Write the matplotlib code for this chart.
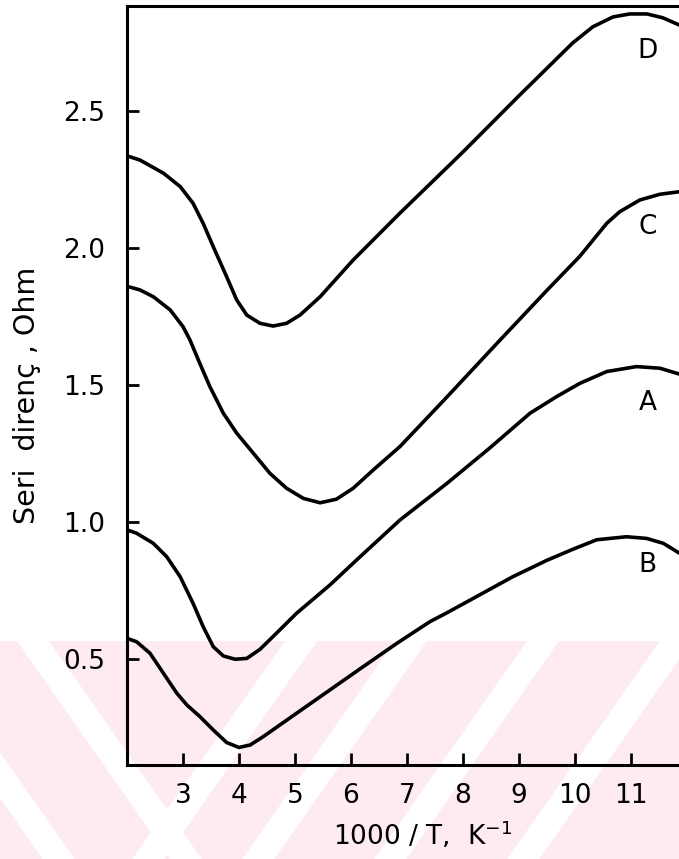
import matplotlib.pyplot as plt
from matplotlib.patches import Polygon, Rectangle

# curves (1000/T in K^-1, series resistance in Ohm)
x_D = [2.0, 2.23, 2.65, 2.95, 3.18, 3.36, 3.54, 3.78, 3.96, 4.14, 4.375, 4.61, 4.85, 5.09, 5.45, 6.04,
       6.875, 8.0, 9.0, 9.96, 10.32, 10.68, 10.98, 11.29, 11.57, 11.86]
y_D = [2.336, 2.321, 2.273, 2.224, 2.163, 2.09, 2.005, 1.895, 1.81, 1.755, 1.725, 1.715, 1.725, 1.755, 1.822, 1.956,
       2.127, 2.35, 2.555, 2.748, 2.807, 2.843, 2.854, 2.854, 2.84, 2.814]

x_C = [2.0, 2.23, 2.47, 2.77, 3.0, 3.125, 3.30, 3.48, 3.72, 3.96, 4.26, 4.55, 4.85, 5.15, 5.45, 5.74,
       6.04, 6.4, 6.875, 7.71, 8.6, 9.5, 10.09, 10.33, 10.57, 10.8, 11.16, 11.52, 11.86]
y_C = [1.86, 1.847, 1.822, 1.774, 1.713, 1.664, 1.579, 1.494, 1.397, 1.324, 1.25, 1.178, 1.123, 1.086, 1.07, 1.083,
       1.123, 1.19, 1.275, 1.455, 1.65, 1.845, 1.97, 2.03, 2.09, 2.132, 2.175, 2.196, 2.205]

x_A = [2.0, 2.17, 2.47, 2.71, 2.95, 3.18, 3.36, 3.54, 3.72, 3.93, 4.14, 4.375, 4.67, 5.03, 5.625, 6.1,
       6.875, 7.71, 8.48, 9.2, 9.67, 10.09, 10.57, 11.1, 11.52, 11.86]
y_A = [0.971, 0.959, 0.922, 0.873, 0.80, 0.703, 0.618, 0.545, 0.511, 0.499, 0.502, 0.535, 0.594, 0.667, 0.77, 0.861,
       1.007, 1.14, 1.27, 1.397, 1.457, 1.506, 1.549, 1.567, 1.561, 1.54]

x_B = [2.0, 2.17, 2.41, 2.65, 2.89, 3.07, 3.30, 3.54, 3.78, 4.0, 4.2, 4.43, 5.03, 5.625, 6.22, 6.82,
       7.41, 7.71, 8.89, 9.5, 9.96, 10.39, 10.92, 11.28, 11.58, 11.86]
y_B = [0.575, 0.563, 0.521, 0.448, 0.375, 0.332, 0.29, 0.241, 0.195, 0.177, 0.186, 0.216, 0.302, 0.387, 0.472, 0.557,
       0.636, 0.668, 0.80, 0.86, 0.90, 0.935, 0.946, 0.94, 0.922, 0.887]

curve_names = ['D', 'C', 'A', 'B']
name_x = [11.3, 11.3, 11.3, 11.3]
name_y = [2.72, 2.077, 1.434, 0.843]

x_ticks = [3, 4, 5, 6, 7, 8, 9, 10, 11]
y_ticks = [0.5, 1.0, 1.5, 2.0, 2.5]

W, H = 679, 859
fig = plt.figure(figsize=(W / 100, H / 100), dpi=100)


def fx(px):
    return px / W


def fy(py):
    return 1 - py / H


# faint watermark in the lower part of the page
pink = '#fdebef'
fig.patches.append(Rectangle((0, 0), 1, fy(641), transform=fig.transFigure,
                             facecolor=pink, edgecolor='none', zorder=-10))
stripes = [(17, 0.7), (-110, 0.7), (285, -0.7), (395, -0.7), (527, -0.7), (660, -0.7)]
for x0, k in stripes:
    y0, y1 = 641, 859
    x1 = x0 + k * (y1 - y0)
    pts = [(fx(x0), fy(y0)), (fx(x0 + 32), fy(y0)), (fx(x1 + 32), fy(y1)), (fx(x1), fy(y1))]
    fig.patches.append(Polygon(pts, closed=True, transform=fig.transFigure,
                               facecolor='white', edgecolor='none', zorder=-9))

ax = fig.add_axes([fx(127), fy(765), fx(552), (765 - 6) / H])
ax.patch.set_alpha(0)

for xs, ys in [(x_D, y_D), (x_C, y_C), (x_A, y_A), (x_B, y_B)]:
    ax.plot(xs, ys, color='black', lw=2.6, solid_capstyle='round', solid_joinstyle='round')

for name, tx, ty in zip(curve_names, name_x, name_y):
    ax.text(tx, ty, name, fontsize=19, ha='center', va='center')

ax.set_xlim(2.0, 11.86)
ax.set_ylim(0.113, 2.883)
ax.set_xticks(x_ticks)
ax.set_xticklabels([str(t) for t in x_ticks])
ax.set_yticks(y_ticks)
ax.set_yticklabels([f'{t:.1f}' for t in y_ticks])
ax.tick_params(direction='in', length=8.5, width=2, labelsize=19)
ax.tick_params(axis='y', pad=16)
ax.tick_params(axis='x', pad=13)

for side in ['left', 'bottom', 'top']:
    ax.spines[side].set_linewidth(2.2)
ax.spines['right'].set_visible(False)

ax.set_xlabel('1000 / T,  K$^{-1}$', fontsize=19)
ax.xaxis.set_label_coords(0.536, -0.072)
ax.set_ylabel('Seri  direnç , Ohm', fontsize=20.5)
ax.yaxis.set_label_coords(-0.156, 0.4875)

fig.savefig('out.png', dpi=100)
